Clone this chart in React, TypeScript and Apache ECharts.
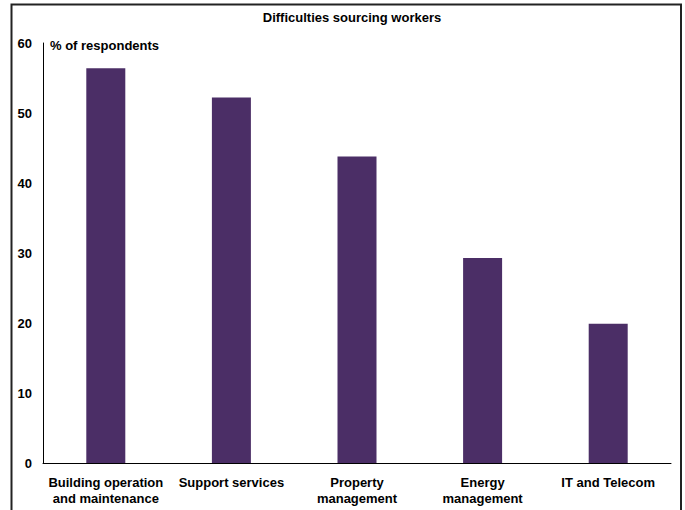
import React, { useEffect, useRef } from "react";
import * as echarts from "echarts";

const categories = [
  "Building operation\nand maintenance",
  "Support services",
  "Property\nmanagement",
  "Energy\nmanagement",
  "IT and Telecom",
];
const values = [56.4, 52.2, 43.8, 29.3, 19.9];
const chartTitle = "Difficulties sourcing workers";
const unitLabel = "% of respondents";

const FONT = "'Liberation Sans', Arial, sans-serif";

export default function App() {
  const ref = useRef<HTMLDivElement>(null);
  useEffect(() => {
    const chart = echarts.init(ref.current!, undefined, { renderer: "svg" });
    chart.setOption({
      animation: false,
      backgroundColor: "#ffffff",
      grid: { left: 43, right: 14, top: 43, bottom: 47, containLabel: false },
      xAxis: {
        type: "category",
        data: categories,
        axisLine: { lineStyle: { color: "#000", width: 1 } },
        axisTick: { show: false },
        axisLabel: {
          color: "#000",
          fontFamily: FONT,
          fontWeight: "bold",
          fontSize: 13,
          lineHeight: 16,
          margin: 11,
          interval: 0,
        },
      },
      yAxis: {
        type: "value",
        min: 0,
        max: 60,
        interval: 10,
        splitLine: { show: false },
        axisLine: { show: true, lineStyle: { color: "#000", width: 1 } },
        axisTick: { show: false },
        axisLabel: {
          color: "#000",
          fontFamily: FONT,
          fontWeight: "bold",
          fontSize: 13,
          margin: 11,
        },
      },
      series: [
        {
          type: "bar",
          data: values,
          barWidth: 39,
          itemStyle: { color: "#4B2E66" },
        },
      ],
      graphic: [
        {
          type: "polyline",
          z: 100,
          silent: true,
          shape: {
            points: [
              [11.5, 520],
              [11.5, 4.5],
              [681, 4.5],
              [681, 520],
            ],
          },
          style: { fill: null, stroke: "#222222", lineWidth: 2 },
        },
        {
          type: "text",
          x: 352,
          y: 17,
          style: {
            text: chartTitle,
            fill: "#000",
            font: `bold 13px ${FONT}`,
            align: "center",
            verticalAlign: "middle",
          },
        },
        {
          type: "text",
          x: 50,
          y: 45,
          style: {
            text: unitLabel,
            fill: "#000",
            font: `bold 13px ${FONT}`,
            align: "left",
            verticalAlign: "middle",
          },
        },
      ],
    });
    return () => chart.dispose();
  }, []);
  return (
    <div
      ref={ref}
      style={{ position: "fixed", left: 0, top: 0, width: 685, height: 510 }}
    />
  );
}
